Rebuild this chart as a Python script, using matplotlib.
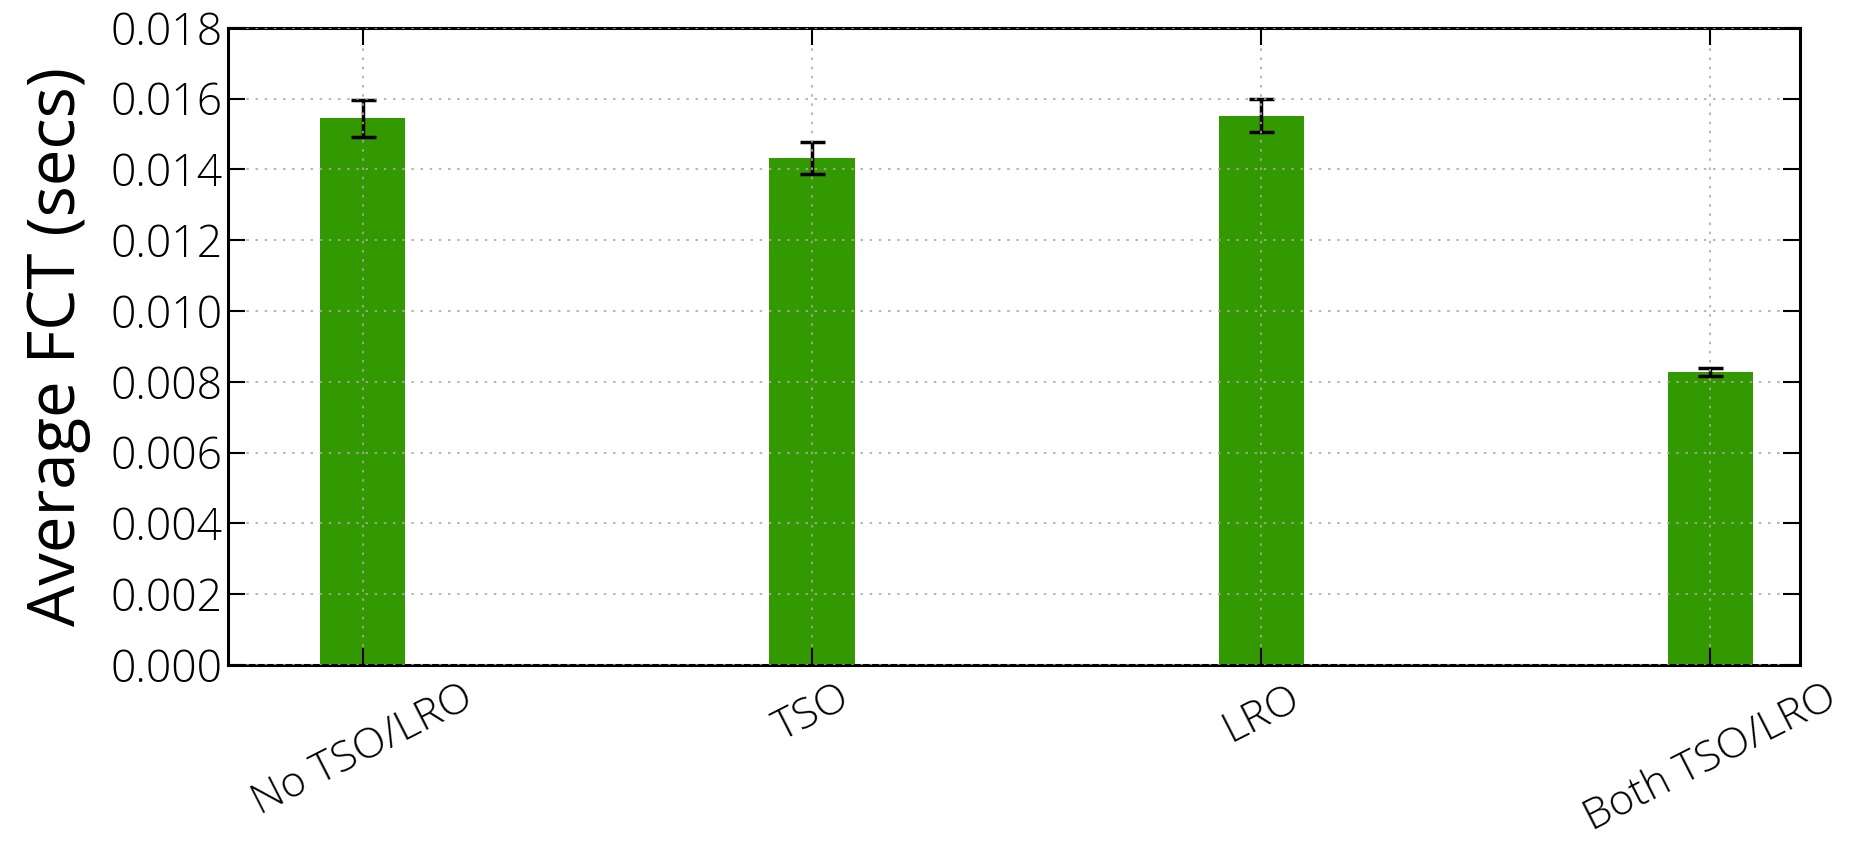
import numpy as np
import matplotlib
matplotlib.use('Agg')
import matplotlib.pyplot as plt

configs = ['No TSO/LRO', 'TSO', 'LRO', 'Both TSO/LRO']
avg_fct = [0.01545, 0.01432, 0.01552, 0.00828]
fct_err = [0.00052, 0.00046, 0.00046, 0.00012]

plt.rcParams['font.family'] = ['Open Sans', 'DejaVu Sans']
plt.rcParams['font.weight'] = 'light'

fig = plt.figure(figsize=(18.54, 8.46), dpi=100)
ax = fig.add_axes([0.123, 0.214, 0.848, 0.753])

ind = np.arange(len(configs))
ax.bar(ind, avg_fct, 0.19, color='#339900', edgecolor='none',
       yerr=fct_err, ecolor='black',
       error_kw=dict(elinewidth=2.5, capsize=9, capthick=2.5))

ax.set_xlim(-0.3, 3.2)
ax.set_ylim(0, 0.018)
ax.set_yticks(np.arange(0, 0.0181, 0.002))
ax.set_yticklabels(['%.3f' % v for v in np.arange(0, 0.0181, 0.002)], fontsize=32)
ax.set_xticks(ind)
ax.set_xticklabels(configs, rotation=27, ha='center', fontsize=31)
ax.set_ylabel('Average FCT (secs)', fontsize=47, labelpad=14)

# old-style dotted grid drawn over the bars
ax.grid(True, color='#aaaaaa', linestyle=(0, (1.5, 4)), linewidth=1.2)
ax.set_axisbelow(False)
ax.tick_params(direction='in', length=12, width=1.5, top=True, right=True, pad=4)
ax.tick_params(axis='x', pad=8)
for s in ax.spines.values():
    s.set_linewidth(2.2)

fig.savefig('out.png', dpi=100)
